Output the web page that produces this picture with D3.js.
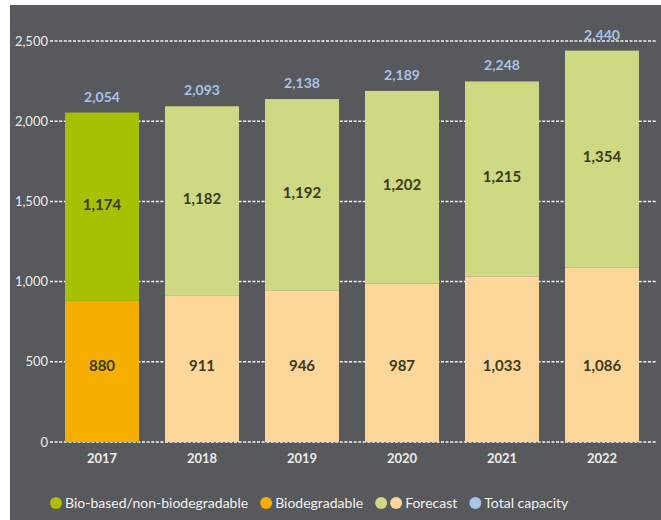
<!DOCTYPE html>
<html>
<head>
<meta charset="utf-8">
<script src="https://cdn.jsdelivr.net/npm/d3@7"></script>
<style>
  html, body { margin: 0; padding: 0; background: #fff; }
  svg { display: block; font-family: Lato, "Open Sans", sans-serif; }
</style>
</head>
<body>
<script>
const years = ['2017', '2018', '2019', '2020', '2021', '2022'];
const biodegradable = [880, 911, 946, 987, 1033, 1086];
const bioBased = [1174, 1182, 1192, 1202, 1215, 1354];
const totals = [2054, 2093, 2138, 2189, 2248, 2440];
const forecast = [false, true, true, true, true, true];
const yTicks = [0, 500, 1000, 1500, 2000, 2500];
const legendItems = [
  { label: 'Bio-based/non-biodegradable', colors: ['#a8c002'] },
  { label: 'Biodegradable', colors: ['#f6ae00'] },
  { label: 'Forecast', colors: ['#cfd983', '#fdd699'] },
  { label: 'Total capacity', colors: ['#a8c4e6'] }
];

const width = 661;
const height = 520;
const colors = {
  bg: '#57595c',
  bio: '#a8c002', bioF: '#cfd983',
  deg: '#f6ae00', degF: '#fdd699',
  total: '#a8c4e6', segText: '#3a3a1c', axisText: '#ececec'
};

const svg = d3.select('body').append('svg')
  .attr('width', width)
  .attr('height', height);

svg.append('rect')
  .attr('x', 10).attr('y', 5)
  .attr('width', width - 10).attr('height', height - 5)
  .attr('fill', colors.bg);

const x = d3.scaleBand()
  .domain(years)
  .range([52, 652])
  .paddingInner(0.26)
  .paddingOuter(0.13);

const y = d3.scaleLinear()
  .domain([0, 2500])
  .range([442, 41]);

// dotted grid lines behind the bars
svg.append('g')
  .selectAll('line')
  .data(yTicks)
  .join('line')
  .attr('x1', 50).attr('x2', 656)
  .attr('y1', d => y(d)).attr('y2', d => y(d))
  .attr('stroke', '#f6f6f6')
  .attr('stroke-width', 1.5)
  .attr('stroke-dasharray', '3,1.6');

const yAxis = d3.axisLeft(y)
  .tickValues(yTicks)
  .tickFormat(d3.format(','))
  .tickSize(0)
  .tickPadding(0);

svg.append('g')
  .attr('transform', 'translate(48,0)')
  .call(yAxis)
  .call(g => g.select('.domain').remove())
  .selectAll('text')
  .attr('fill', colors.axisText)
  .attr('font-size', 13)
  .attr('font-family', 'Lato, "Open Sans", sans-serif');

const rows = years.map((yr, i) => ({
  year: yr, deg: biodegradable[i], bio: bioBased[i], total: totals[i], fc: forecast[i]
}));

const bars = svg.append('g')
  .selectAll('g')
  .data(rows)
  .join('g');

bars.append('rect')
  .attr('x', d => x(d.year))
  .attr('width', x.bandwidth())
  .attr('y', d => y(d.deg))
  .attr('height', d => y(0) - y(d.deg))
  .attr('fill', d => d.fc ? colors.degF : colors.deg);

bars.append('rect')
  .attr('x', d => x(d.year))
  .attr('width', x.bandwidth())
  .attr('y', d => y(d.deg + d.bio))
  .attr('height', d => y(d.deg) - y(d.deg + d.bio))
  .attr('fill', d => d.fc ? colors.bioF : colors.bio);

// segment values
bars.append('text')
  .attr('x', d => x(d.year) + x.bandwidth() / 2)
  .attr('y', d => y(biodegradable[0] / 2))
  .attr('text-anchor', 'middle')
  .attr('font-size', 15)
  .attr('font-weight', 700)
  .attr('fill', colors.segText)
  .text(d => d3.format(',')(d.deg));

bars.append('text')
  .attr('x', d => x(d.year) + x.bandwidth() / 2)
  .attr('y', d => (y(d.deg) + y(d.deg + d.bio)) / 2 + 3)
  .attr('text-anchor', 'middle')
  .attr('font-size', 15)
  .attr('font-weight', 700)
  .attr('fill', colors.segText)
  .text(d => d3.format(',')(d.bio));

// totals
bars.append('text')
  .attr('x', d => x(d.year) + x.bandwidth() / 2)
  .attr('y', d => y(d.total) - 11)
  .attr('text-anchor', 'middle')
  .attr('font-size', 14)
  .attr('font-weight', 700)
  .attr('fill', colors.total)
  .text(d => d3.format(',')(d.total));

const xAxis = d3.axisBottom(x).tickSize(0).tickPadding(0);
svg.append('g')
  .attr('transform', `translate(0,${y(0) + 12})`)
  .call(xAxis)
  .call(g => g.select('.domain').remove())
  .selectAll('text')
  .attr('fill', colors.axisText)
  .attr('font-size', 13)
  .attr('font-weight', 700)
  .attr('font-family', 'Lato, "Open Sans", sans-serif');

// legend
const legend = svg.append('g').attr('transform', 'translate(50,503)');
let lx = 0;
legendItems.forEach(item => {
  item.colors.forEach(c => {
    legend.append('circle')
      .attr('cx', lx + 6).attr('cy', 0).attr('r', 6)
      .attr('fill', c);
    lx += 15;
  });
  const t = legend.append('text')
    .attr('x', lx)
    .attr('y', 5)
    .attr('font-size', 14)
    .attr('fill', '#f2f2f2')
    .text(item.label);
  lx += t.node().getComputedTextLength() + 12;
});
</script>
</body>
</html>
